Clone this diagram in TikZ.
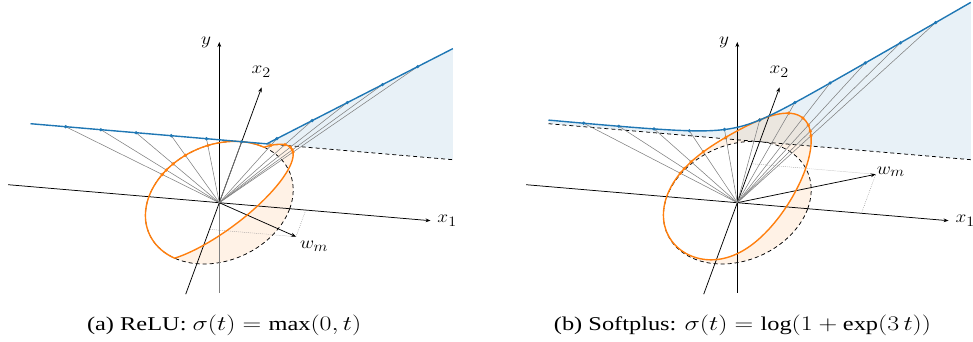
\documentclass[tikz,border=0pt]{standalone}
\usepackage{fontspec}
\setmainfont{Liberation Serif}
\usetikzlibrary{arrows.meta}
\definecolor{tblue}{HTML}{1F77B4}
\definecolor{torange}{HTML}{FF7F0E}
\newcommand{\labtxt}[1]{\scalebox{1.12}[1]{#1}}
\newcommand{\captxt}[1]{\scalebox{1.25}[1]{#1}}
\begin{document}
\begin{tikzpicture}[
  declare function={
    gfa(\t)=max(0,1.2284*\t-0.4366);
    hfa(\a)=max(0,1.2284*cos(\a)-0.4366*sin(\a));
    spb(\s)=0.4386*ln(1+exp(3*\s));
    gfb(\t)=sqrt(1+\t*\t)*spb((1.022*\t+0.393)/sqrt(1+\t*\t));
    hfb(\a)=spb(1.022*cos(\a)+0.393*sin(\a));
  },
  axisline/.style={line width=0.75pt, -{Stealth[length=5pt,width=3.8pt]}},
  plainaxis/.style={line width=0.75pt},
  ray/.style={gray, line width=0.55pt},
  helper/.style={gray, line width=0.45pt, dash pattern=on 0.7pt off 1.3pt},
  dashcurve/.style={black, line width=0.75pt, dash pattern=on 4pt off 3pt},
  bluecurve/.style={tblue, line width=1.4pt, line join=round},
  orangecurve/.style={torange, line width=1.4pt, line join=round},
  bluefill/.style={fill=tblue, fill opacity=0.1},
  orangefill/.style={fill=torange, fill opacity=0.1, even odd rule},
  bdot/.style={fill=tblue},
  odot/.style={fill=torange},
  lab/.style={font=\fontsize{19}{22}\selectfont, inner sep=0pt},
  captext/.style={font=\fontsize{19.5}{22}\selectfont, anchor=base, inner sep=0pt},
]
\useasboundingbox (0pt,0pt) rectangle (973pt,-341pt);

% ---------------- panel (a) ----------------
\begin{scope}[shift={(219.3pt,-202.7pt)}, x={(70.4pt,-6.0pt)}, y={(22.4pt,61.0pt)}, z={(0pt,34.2pt)}]
  \coordinate (Oa) at (0,0,0);
  \coordinate (ka) at (0.3554,1,0);
  \coordinate (ea) at (3,1,{gfa(3)});
  \coordinate (za) at (3,1,0);
  \coordinate (sa) at (-3,1,0);
  \fill[bluefill] (ka) -- (ea) -- (za) -- cycle;
  \path[orangefill] plot[domain=70.43:430.43, samples=181, variable=\a] ({cos(\a)},{sin(\a)},{hfa(\a)}) -- cycle
        plot[domain=0:360, samples=181, variable=\a] ({cos(\a)},{sin(\a)},0) -- cycle;
  \draw[dashcurve] plot[domain=0:360, samples=181, variable=\a] ({cos(\a)},{sin(\a)},0) -- cycle;
  \draw[dashcurve] (ka) -- (za);
  % axes
  \coordinate (x1aS) at (-3,0,0); \coordinate (x1aE) at (3,0,0);
  \coordinate (yaS) at (0,0,-2.64); \coordinate (yaE) at (0,0,4.7);
  \coordinate (x2aS) at (0,-1.5,0); \coordinate (x2aE) at (0,1.89,0);
  \coordinate (wa) at (1.2284,-0.4366,0);
  \coordinate (wa1) at (1.2284,0,0); \coordinate (wa2) at (0,-0.4366,0);
  \draw[axisline] (x1aS) -- (x1aE);
  \draw[plainaxis, gray] (yaS) -- (Oa);
  \draw[axisline] (Oa) -- (yaE);
  \draw[axisline] (x2aS) -- (x2aE);
  \draw[helper] (wa1) -- (wa) -- (wa2);
  \draw[axisline] (Oa) -- (wa);
  % rays
  \foreach \t [count=\i] in {-2.5,-2,-1.5,-1,-0.5,0,0.5,1,1.5,2,2.5} {
    \coordinate (ba\i) at (\t,1,{gfa(\t)});
    \coordinate (oa\i) at ({\t/sqrt(1+\t*\t)},{1/sqrt(1+\t*\t)},{gfa(\t)/sqrt(1+\t*\t)});
    \draw[ray] (Oa) -- (ba\i);
  }
  \draw[orangecurve] plot[domain=70.43:430.43, samples=181, variable=\a] ({cos(\a)},{sin(\a)},{hfa(\a)}) -- cycle;
  \foreach \i in {1,...,11} { \fill[odot] (oa\i) circle[radius=1.8pt]; }
  \draw[bluecurve] (sa) -- (ka) -- (ea);
  \foreach \i in {1,...,11} { \fill[bdot] (ba\i) circle[radius=1.8pt]; }
  % labels
  \node[lab] (lya) at ([shift={(-13.3pt,0pt)}]yaE) {\labtxt{$y$}};
  \node[lab] (lx2a) at ([shift={(-0.5pt,15.5pt)}]x2aE) {\labtxt{$x_2$}};
  \node[lab] (lx1a) at ([shift={(16.6pt,0pt)}]x1aE) {\labtxt{$x_1$}};
  \node[lab] (lwa) at ([shift={(18pt,-9.8pt)}]wa) {\labtxt{$w_m$}};
\end{scope}

% ---------------- panel (b) ----------------
\begin{scope}[shift={(737.3pt,-202.7pt)}, x={(70.4pt,-6.0pt)}, y={(22.4pt,61.0pt)}, z={(0pt,34.2pt)}]
  \coordinate (Ob) at (0,0,0);
  \coordinate (zb) at (3,1,0);
  \coordinate (sb) at (-3,1,0);
  \fill[bluefill] plot[domain=-3:3, samples=121, variable=\t] (\t,1,{gfb(\t)}) -- (zb) -- (sb) -- cycle;
  \path[orangefill] plot[domain=0:360, samples=181, variable=\a] ({cos(\a)},{sin(\a)},{hfb(\a)}) -- cycle
        plot[domain=0:360, samples=181, variable=\a] ({cos(\a)},{sin(\a)},0) -- cycle;
  \draw[dashcurve] plot[domain=0:360, samples=181, variable=\a] ({cos(\a)},{sin(\a)},0) -- cycle;
  \draw[dashcurve] (sb) -- (zb);
  % axes
  \coordinate (x1bS) at (-3,0,0); \coordinate (x1bE) at (3,0,0);
  \coordinate (ybS) at (0,0,-2.64); \coordinate (ybE) at (0,0,4.7);
  \coordinate (x2bS) at (0,-1.5,0); \coordinate (x2bE) at (0,1.89,0);
  \coordinate (wb) at (1.7626,0.639,0);
  \coordinate (wb1) at (1.7626,0,0); \coordinate (wb2) at (0,0.639,0);
  \draw[axisline] (x1bS) -- (x1bE);
  \draw[plainaxis] (ybS) -- (Ob);
  \draw[axisline] (Ob) -- (ybE);
  \draw[axisline] (x2bS) -- (x2bE);
  \draw[helper] (wb1) -- (wb) -- (wb2);
  \draw[axisline] (Ob) -- (wb);
  % rays
  \foreach \t [count=\i] in {-2.5,-2,-1.5,-1,-0.5,0,0.5,1,1.5,2,2.5} {
    \coordinate (bb\i) at (\t,1,{gfb(\t)});
    \coordinate (ob\i) at ({\t/sqrt(1+\t*\t)},{1/sqrt(1+\t*\t)},{gfb(\t)/sqrt(1+\t*\t)});
    \draw[ray] (Ob) -- (bb\i);
  }
  \draw[orangecurve] plot[domain=0:360, samples=181, variable=\a] ({cos(\a)},{sin(\a)},{hfb(\a)}) -- cycle;
  \foreach \i in {1,...,11} { \fill[odot] (ob\i) circle[radius=1.8pt]; }
  \draw[bluecurve] plot[domain=-3:3, samples=121, variable=\t] (\t,1,{gfb(\t)});
  \foreach \i in {1,...,11} { \fill[bdot] (bb\i) circle[radius=1.8pt]; }
  % labels
  \node[lab] (lyb) at ([shift={(-13.3pt,0pt)}]ybE) {\labtxt{$y$}};
  \node[lab] (lx2b) at ([shift={(-0.5pt,15.5pt)}]x2bE) {\labtxt{$x_2$}};
  \node[lab] (lx1b) at ([shift={(16.6pt,0pt)}]x1bE) {\labtxt{$x_1$}};
  \node[lab] (lwb) at ([shift={(15pt,2.6pt)}]wb) {\labtxt{$w_m$}};
\end{scope}

% captions
\node[captext] (capa) at (224.2pt,-330pt) {\captxt{(a) ReLU: $\sigma(t) = \max(0, t)$}};
\node[captext] (capb) at (742.5pt,-330pt) {\captxt{(b) Softplus: $\sigma(t) = \log(1 + \exp(3\,t))$}};
\end{tikzpicture}
\end{document}
